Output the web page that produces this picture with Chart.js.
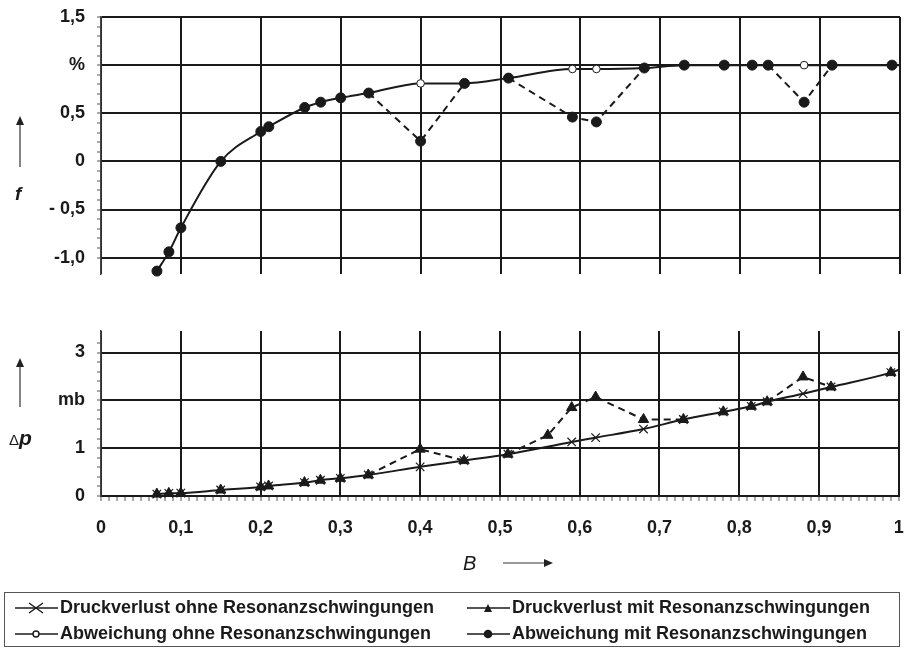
<!DOCTYPE html>
<html>
<head>
<meta charset="utf-8">
<script src="https://cdn.jsdelivr.net/npm/chart.js@4.4.1/dist/chart.umd.min.js"></script>
<style>
  body { margin: 0; background: #fff; }
  #wrap { position: relative; width: 906px; height: 651px; overflow: hidden;
          font-family: "Liberation Sans", Arial, sans-serif; color: #1a1a1a; }
  canvas { position: absolute; left: 0; }
  #topChart { top: 0; }
  #botChart { top: 300px; }
  .lbl { position: absolute; font-weight: bold; line-height: 1; }
  .it { font-style: italic; }
  #legend { position: absolute; left: 4px; top: 592px; width: 896px; height: 55px;
            border: 1px solid #555; box-sizing: border-box; }
  .item { position: absolute; display: flex; align-items: center; font-weight: bold;
          font-size: 18px; white-space: nowrap; }
  .item svg { margin-right: 2px; }
  #arrows { position: absolute; left: 0; top: 0; }
</style>
</head>
<body>
<div id="wrap">
  <canvas id="topChart" width="906" height="290"></canvas>
  <canvas id="botChart" width="906" height="290"></canvas>

  <svg id="arrows" width="906" height="651">
    <g stroke="#333" stroke-width="1.2" fill="#222">
      <line x1="20" y1="167" x2="20" y2="124"></line>
      <polygon points="16,125 24,125 20,116" stroke="none"></polygon>
      <line x1="20" y1="407" x2="20" y2="366"></line>
      <polygon points="16,367 24,367 20,358" stroke="none"></polygon>
      <line x1="503" y1="563" x2="545" y2="563"></line>
      <polygon points="544,559 544,567 553,563" stroke="none"></polygon>
    </g>
  </svg>
  <div class="lbl it" style="left:15px; top:184px; font-size:19px;">f</div>
  <div class="lbl" style="left:9px; top:427px; font-size:21px;"><span style="font-weight:normal;font-size:15px;">&Delta;</span><span class="it">p</span></div>
  <div class="lbl it" style="left:463px; top:553px; font-size:20px; font-weight:normal;">B</div>

  <div id="legend"></div>
</div>

<script>
const INK = "#1a1a1a";

// Messpunkte: Anteil B (gemeinsam fuer beide Diagramme, Endpunkt bei 1,0 ohne Marker)
const bPoints = [0.07, 0.085, 0.1, 0.15, 0.2, 0.21, 0.255, 0.275, 0.3, 0.335, 0.4, 0.455,
                 0.51, 0.59, 0.62, 0.68, 0.73, 0.78, 0.815, 0.835, 0.88, 0.915, 0.99, 1.0];

// Abweichung f in %
const fOhne = [-1.14, -0.94, -0.69, 0.0, 0.31, 0.36, 0.56, 0.615, 0.66, 0.71, 0.81, 0.81,
               0.865, 0.96, 0.96, 0.97, 1.0, 1.0, 1.0, 1.0, 1.0, 1.0, 1.0, 1.0];
const fMit  = [-1.14, -0.94, -0.69, 0.0, 0.31, 0.36, 0.56, 0.615, 0.66, 0.71, 0.21, 0.81,
               0.865, 0.46, 0.41, 0.97, 1.0, 1.0, 1.0, 1.0, 0.615, 1.0, 1.0, 1.0];

// Druckverlust in mb
const pOhne = [0.04, 0.055, 0.06, 0.125, 0.19, 0.21, 0.28, 0.33, 0.37, 0.44, 0.61, 0.74,
               0.875, 1.13, 1.22, 1.4, 1.6, 1.76, 1.875, 1.97, 2.14, 2.28, 2.58, 2.64];
const bDruckMit = [0.07, 0.085, 0.1, 0.15, 0.2, 0.21, 0.255, 0.275, 0.3, 0.335, 0.4, 0.455,
                   0.51, 0.56, 0.59, 0.62, 0.68, 0.73, 0.78, 0.815, 0.835, 0.88, 0.915, 0.99, 1.0];
const pMit = [0.04, 0.055, 0.06, 0.125, 0.19, 0.21, 0.28, 0.33, 0.37, 0.44, 0.98, 0.74,
              0.875, 1.27, 1.85, 2.07, 1.6, 1.6, 1.76, 1.875, 1.97, 2.49, 2.28, 2.58, 2.64];

// Achsenbeschriftungen
const xTickValues = [0, 0.1, 0.2, 0.3, 0.4, 0.5, 0.6, 0.7, 0.8, 0.9, 1];
const xTickLabels = ["0", "0,1", "0,2", "0,3", "0,4", "0,5", "0,6", "0,7", "0,8", "0,9", "1"];
const fTickValues = [1.5, 1.0, 0.5, 0, -0.5, -1.0];
const fTickLabels = ["1,5", "%", "0,5", "0", "- 0,5", "-1,0"];
const pTickValues = [0, 1, 2, 3];
const pTickLabels = ["0", "1", "mb", "3"];

const legendLabels = [
  "Druckverlust ohne Resonanzschwingungen",
  "Druckverlust mit Resonanzschwingungen",
  "Abweichung ohne Resonanzschwingungen",
  "Abweichung mit Resonanzschwingungen",
];

Chart.defaults.font.family = "'Liberation Sans', Arial, sans-serif";
Chart.defaults.font.size = 18;
Chart.defaults.font.weight = "bold";
Chart.defaults.color = INK;

function toXY(xs, ys) {
  return xs.map(function (x, i) { return { x: x, y: ys[i] }; });
}

function lookupLabel(values, labels, v) {
  for (var i = 0; i < values.length; i++) {
    if (Math.abs(values[i] - v) < 1e-6) return labels[i];
  }
  return "";
}

function onStep(v, step) {
  var n = v / step;
  return Math.abs(n - Math.round(n)) < 1e-6;
}

// true where the "mit" curve leaves the "ohne" curve
function dipFlags(bMit, vMit, bOhne, vOhne) {
  return bMit.map(function (b, i) {
    var j = bOhne.indexOf(b);
    return j < 0 || Math.abs(vOhne[j] - vMit[i]) > 1e-9;
  });
}

function hideEnd(r) {
  return function (ctx) {
    return ctx.raw && ctx.raw.x >= 1 ? 0 : r;
  };
}

function makeChart(id, datasets, y, showX, pad) {
  return new Chart(document.getElementById(id), {
    type: "line",
    data: { datasets: datasets },
    options: {
      responsive: false,
      animation: false,
      layout: { padding: pad },
      plugins: { legend: { display: false }, tooltip: { enabled: false } },
      scales: {
        x: {
          type: "linear",
          min: 0,
          max: 1,
          border: { display: showX, color: INK, width: 2 },
          ticks: {
            display: showX,
            stepSize: showX ? 0.01 : 0.1,
            autoSkip: false,
            maxRotation: 0,
            padding: 16,
            callback: function (v) { return lookupLabel(xTickValues, xTickLabels, v); },
          },
          grid: {
            drawTicks: showX,
            tickLength: 5,
            color: function (c) { return onStep(c.tick.value, 0.1) ? INK : "rgba(0,0,0,0)"; },
            lineWidth: 2,
            tickColor: "#555",
            tickWidth: 1,
          },
          afterFit: function (s) {
            if (showX) s.height = 94;
            s.paddingLeft = 0;
            s.paddingRight = 0;
          },
        },
        y: {
          min: y.min,
          max: y.max,
          border: { color: "#444", width: 1.5 },
          ticks: {
            stepSize: y.minor,
            autoSkip: false,
            padding: 12,
            callback: function (v) { return lookupLabel(y.values, y.labels, v); },
          },
          grid: {
            tickLength: 4,
            color: function (c) { return onStep(c.tick.value, y.major) ? INK : "rgba(0,0,0,0)"; },
            lineWidth: 2,
            tickColor: function (c) { return onStep(c.tick.value, y.minor) ? "#555" : "rgba(0,0,0,0)"; },
            tickWidth: 1,
          },
          afterFit: function (s) {
            s.width = 101;
            s.paddingTop = 0;
            s.paddingBottom = 0;
          },
        },
      },
    },
  });
}

// --- oberes Diagramm: Abweichung f ---
var fDips = dipFlags(bPoints, fMit, bPoints, fOhne);
makeChart("topChart", [
  {
    label: legendLabels[3],
    data: toXY(bPoints, fMit),
    borderColor: INK,
    borderWidth: 2,
    borderDash: [7, 5],
    tension: 0,
    pointStyle: "circle",
    pointRadius: hideEnd(5),
    pointBackgroundColor: INK,
    pointBorderColor: INK,
    pointBorderWidth: 1,
    clip: false,
    order: 0,
    segment: {
      borderColor: function (c) {
        return fDips[c.p0DataIndex] || fDips[c.p1DataIndex] ? INK : "rgba(0,0,0,0)";
      },
    },
  },
  {
    label: legendLabels[2],
    data: toXY(bPoints, fOhne),
    borderColor: INK,
    borderWidth: 2,
    cubicInterpolationMode: "monotone",
    pointStyle: "circle",
    pointRadius: hideEnd(3.8),
    pointBackgroundColor: "#fff",
    pointBorderColor: INK,
    pointBorderWidth: 1,
    clip: false,
    order: 1,
  },
], { min: -1.17, max: 1.5, minor: 0.1, major: 0.5, values: fTickValues, labels: fTickLabels },
false, { top: 17, right: 3, bottom: 16, left: 0 });

// --- unteres Diagramm: Druckverlust ---
var pDips = dipFlags(bDruckMit, pMit, bPoints, pOhne);
makeChart("botChart", [
  {
    label: legendLabels[1],
    data: toXY(bDruckMit, pMit),
    borderColor: INK,
    borderWidth: 2,
    borderDash: [7, 5],
    tension: 0,
    pointStyle: "triangle",
    pointRadius: hideEnd(6),
    pointBackgroundColor: INK,
    pointBorderColor: INK,
    pointBorderWidth: 1,
    clip: false,
    order: 0,
    segment: {
      borderColor: function (c) {
        return pDips[c.p0DataIndex] || pDips[c.p1DataIndex] ? INK : "rgba(0,0,0,0)";
      },
    },
  },
  {
    label: legendLabels[0],
    data: toXY(bPoints, pOhne),
    borderColor: INK,
    borderWidth: 2,
    cubicInterpolationMode: "monotone",
    pointStyle: "crossRot",
    pointRadius: hideEnd(6),
    pointBorderColor: INK,
    pointBorderWidth: 1.2,
    clip: false,
    order: 1,
  },
], { min: 0, max: 3.45, minor: 0.2, major: 1, values: pTickValues, labels: pTickLabels },
true, { top: 31, right: 3, bottom: 0, left: 0 });

// --- Legende ---
var symbols = [
  '<line x1="14" y1="3" x2="28" y2="13"/><line x1="14" y1="13" x2="28" y2="3"/>',
  '<polygon points="17,12 25,12 21,4" fill="#1a1a1a" stroke="none"/>',
  '<circle cx="21" cy="8" r="3" fill="#fff"/>',
  '<circle cx="21" cy="8" r="3.6" fill="#1a1a1a"/>',
];
var pos = [[10, 4], [462, 4], [10, 30], [462, 30]];
var legend = document.getElementById("legend");
legendLabels.forEach(function (txt, i) {
  var d = document.createElement("div");
  d.className = "item";
  d.style.left = pos[i][0] + "px";
  d.style.top = pos[i][1] + "px";
  d.innerHTML =
    '<svg width="43" height="16"><g stroke="#1a1a1a" stroke-width="1.4">' +
    '<line x1="0" y1="8" x2="43" y2="8"/>' + symbols[i] + '</g></svg>' +
    '<span></span>';
  d.querySelector("span").textContent = txt;
  legend.appendChild(d);
});
</script>
</body>
</html>
